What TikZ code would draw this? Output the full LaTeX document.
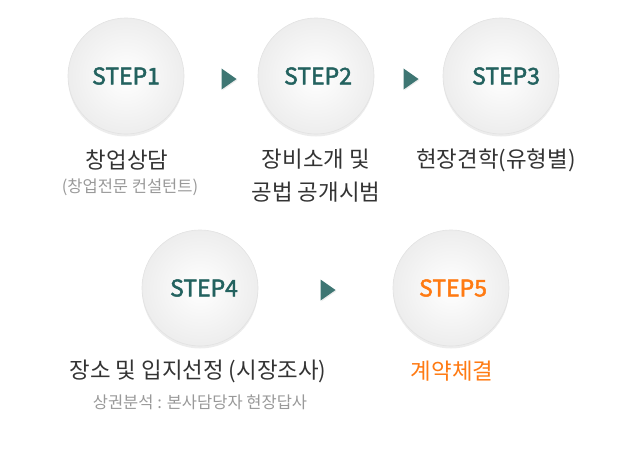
\documentclass[tikz,border=0pt]{standalone}
\usepackage{fontspec}
\setmainfont{Noto Sans CJK KR}
\newfontfamily\stepfont[FakeBold=2]{Noto Sans CJK KR}
\usetikzlibrary{shadows,shapes.geometric}
\definecolor{teal1}{HTML}{23625F}
\definecolor{arrowc}{HTML}{3E7673}
\definecolor{orng}{HTML}{FF7A12}
\definecolor{maintxt}{HTML}{333333}
\definecolor{subtxt}{HTML}{999999}
\definecolor{ringc}{HTML}{E2E2E2}
\tikzset{
  stepcirc/.style={circle, minimum size=116pt, inner sep=0pt, draw=ringc, line width=0.6pt,
    inner color=white, outer color=black!7,
    drop shadow={opacity=0.15, shadow xshift=0pt, shadow yshift=-2.5pt}},
  steptxt/.style={font=\stepfont\fontsize{23}{24}\selectfont, text=teal1},
  maintext/.style={font=\fontsize{22.4}{33}\selectfont, text=maintxt, align=center},
  subtext/.style={font=\fontsize{16.5}{18}\selectfont, text=subtxt},
  arrowtri/.style={isosceles triangle, isosceles triangle apex angle=70, fill=arrowc,
    minimum height=15pt, inner sep=0pt, anchor=center,
    drop shadow={opacity=0.15, shadow xshift=1pt, shadow yshift=-1pt}}
}
\begin{document}
\begin{tikzpicture}[x=1pt,y=-1pt]
\useasboundingbox (0,0) rectangle (640,450);
% circles
\node[stepcirc] (c1) at (126,76) {};
\node[stepcirc] (c2) at (316,76) {};
\node[stepcirc] (c3) at (501,76) {};
\node[stepcirc] (c4) at (200,288) {};
\node[stepcirc] (c5) at (451,288) {};
\node[steptxt] (s1) at (126,76) {STEP1};
\node[steptxt] (s2) at (318,76) {STEP2};
\node[steptxt] (s3) at (506,76) {STEP3};
\node[steptxt] (s4) at (204,288) {STEP4};
\node[steptxt, text=orng] (s5) at (453,288) {STEP5};
% arrows
\node[arrowtri] (a1) at (227,79) {};
\node[arrowtri] (a2) at (409,79) {};
\node[arrowtri] (a3) at (326,290) {};
% labels
\node[maintext] (l1) at (127,160) {창업상담};
\node[subtext] (d1) at (130,187) {(창업전문 컨설턴트)};
\node[maintext] (l2) at (316,176) {장비소개 및\\공법 공개시범};
\node[maintext] (l3) at (496,160) {현장견학(유형별)};
\node[maintext] (l4) at (198,371) {장소 및 입지선정 (시장조사)};
\node[subtext] (d4) at (200,402) {상권분석 : 본사담당자 현장답사};
\node[maintext, text=orng] (l5) at (452,371) {계약체결};
\end{tikzpicture}
\end{document}
